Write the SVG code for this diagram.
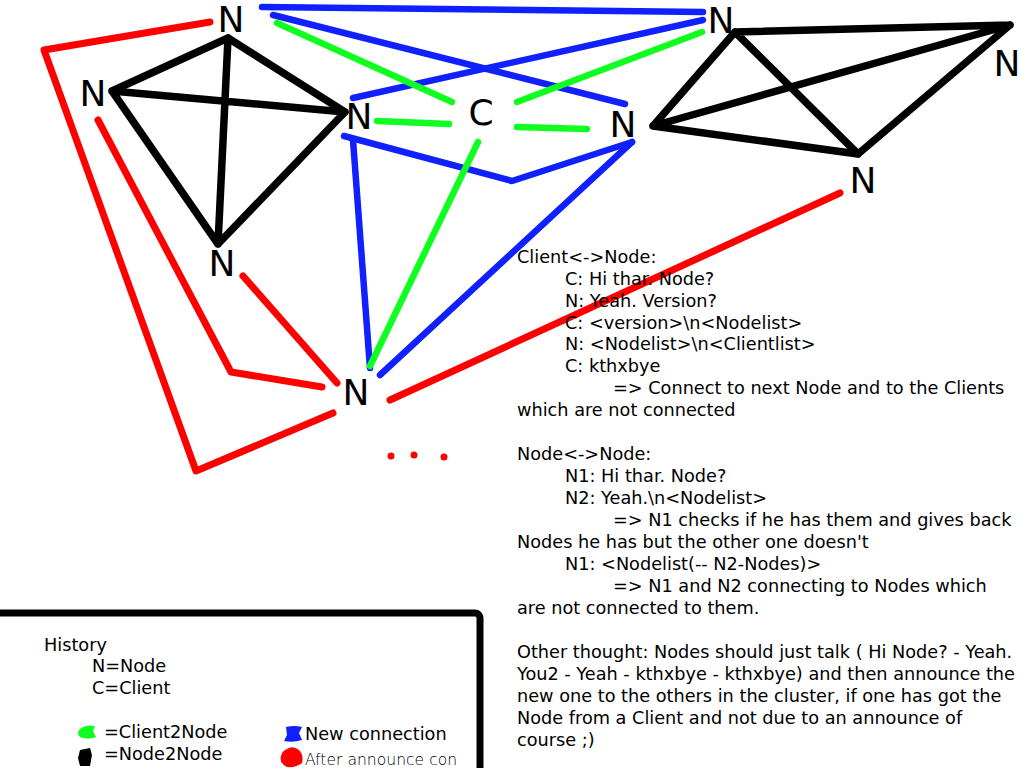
<svg xmlns="http://www.w3.org/2000/svg" width="1024" height="768" viewBox="0 0 1024 768">
<style>
.lbl{font-family:"DejaVu Sans","Liberation Sans",sans-serif;font-size:36px;fill:#000;text-anchor:middle}
.t{font-family:"DejaVu Sans","Liberation Sans",sans-serif;font-size:17.7px;fill:#000}
.thin{font-family:"DejaVu Sans","Liberation Sans",sans-serif;font-size:15.6px;font-weight:200;fill:#000}
.k{stroke:#000;stroke-width:7.5;fill:none;stroke-linecap:round;stroke-linejoin:round}
.b{stroke:#1020ff;stroke-width:6.5;fill:none;stroke-linecap:round;stroke-linejoin:round}
.g{stroke:#10ff20;stroke-width:6.5;fill:none;stroke-linecap:round;stroke-linejoin:round}
.r{stroke:#ff0000;stroke-width:7;fill:none;stroke-linecap:round;stroke-linejoin:round}
</style>
<rect width="1024" height="768" fill="#fff"/>
<g id="connectors">
  <!-- Node2Node left cluster -->
  <path class="k" d="M228,38 L112,91 M228,38 L345,112 M228,38 L218,244 M112,91 L345,112 M112,91 L218,244 M345,112 L218,244"/>
  <!-- Node2Node right cluster -->
  <path class="k" d="M735,32 L1010,25 M735,32 L653,126 M735,32 L858,154 M653,126 L1010,25 M653,126 L858,154 M858,154 L1010,25"/>
  <!-- New connections -->
  <path class="b" d="M262,7 L703,12"/>
  <path class="b" d="M273,15 L625,104"/>
  <path class="b" d="M353,98 L703,20"/>
  <path class="b" d="M344,136 L512,181 L632,142"/>
  <path class="b" d="M353,140 L370,368"/>
  <path class="b" d="M632,142 L380,375"/>
  <!-- Client2Node -->
  <path class="g" d="M277,23 L452,102"/>
  <path class="g" d="M377,121 L449,124"/>
  <path class="g" d="M517,102 L702,32"/>
  <path class="g" d="M517,127 L587,129"/>
  <path class="g" d="M478,142 L370,366"/>
  <!-- After announce -->
  <path class="r" d="M210,22 L44,50 L196,471 L333,413"/>
  <path class="r" d="M98,120 L231,372 L322,387"/>
  <path class="r" d="M243,276 L337,383"/>
  <path class="r" d="M390,400 L840,193"/>
  <g fill="#ff0000">
    <circle cx="391" cy="456" r="3.5"/>
    <circle cx="414" cy="455" r="3.5"/>
    <circle cx="444" cy="457" r="3.5"/>
  </g>
</g>
<g id="n-top"><text class="lbl" x="231" y="32">N</text></g>
<g id="n-left"><text class="lbl" x="93" y="106">N</text></g>
<g id="n-midleft"><text class="lbl" x="359" y="129">N</text></g>
<g id="client"><text class="lbl" x="481" y="125">C</text></g>
<g id="n-midright"><text class="lbl" x="623" y="137">N</text></g>
<g id="n-topright"><text class="lbl" x="721" y="33">N</text></g>
<g id="n-farright"><text class="lbl" x="1007" y="76">N</text></g>
<g id="n-rightlow"><text class="lbl" x="863" y="193">N</text></g>
<g id="n-lowleft"><text class="lbl" x="222" y="276">N</text></g>
<g id="n-bottom"><text class="lbl" x="356" y="405">N</text></g>
<g id="notes">
  <text class="t" x="517" y="263">Client&lt;-&gt;Node:</text>
  <text class="t" x="565" y="285">C: Hi thar. Node?</text>
  <text class="t" x="565" y="307">N: Yeah. Version?</text>
  <text class="t" x="565" y="329">C: &lt;version&gt;\n&lt;Nodelist&gt;</text>
  <text class="t" x="565" y="350">N: &lt;Nodelist&gt;\n&lt;Clientlist&gt;</text>
  <text class="t" x="565" y="372">C: kthxbye</text>
  <text class="t" x="613" y="394">=&gt; Connect to next Node and to the Clients</text>
  <text class="t" x="517" y="416">which are not connected</text>
  <text class="t" x="517" y="460">Node&lt;-&gt;Node:</text>
  <text class="t" x="565" y="482">N1: Hi thar. Node?</text>
  <text class="t" x="565" y="504">N2: Yeah.\n&lt;Nodelist&gt;</text>
  <text class="t" x="613" y="526">=&gt; N1 checks if he has them and gives back</text>
  <text class="t" x="517" y="548">Nodes he has but the other one doesn't</text>
  <text class="t" x="565" y="570">N1: &lt;Nodelist(-- N2-Nodes)&gt;</text>
  <text class="t" x="613" y="592">=&gt; N1 and N2 connecting to Nodes which</text>
  <text class="t" x="517" y="614">are not connected to them.</text>
  <text class="t" x="517" y="658">Other thought: Nodes should just talk ( Hi Node? - Yeah.</text>
  <text class="t" x="517" y="680">You2 - Yeah - kthxbye - kthxbye) and then announce the</text>
  <text class="t" x="517" y="702">new one to the others in the cluster, if one has got the</text>
  <text class="t" x="517" y="724">Node from a Client and not due to an announce of</text>
  <text class="t" x="517" y="746">course ;)</text>
</g>
<g id="legend">
  <rect x="-10" y="613" width="490" height="200" rx="5" fill="none" stroke="#000" stroke-width="7"/>
  <text class="t" x="44" y="651">History</text>
  <text class="t" x="92" y="672">N=Node</text>
  <text class="t" x="92" y="694">C=Client</text>
  <path d="M80,729 Q86,724 95,726 L93,731 L96,737 Q88,740 80,737 Q76,733 80,729 Z" fill="#10ff20"/>
  <path d="M80,750 L90,748 L92,755 L90,766 L80,766 L78,758 Z" fill="#000"/>
  <path d="M286,727 Q294,725 302,727 L299,733 L302,740 Q293,743 284,741 L287,735 Z" fill="#1020ff"/>
  <path d="M287,749 Q293,745 299,750 Q304,755 302,763 Q296,768 287,767 Q279,763 281,756 Q282,751 287,749 Z" fill="#ff0000"/>
  <text class="t" x="104" y="738">=Client2Node</text>
  <text class="t" x="104" y="760">=Node2Node</text>
  <text class="t" x="305" y="740">New connection</text>
  <text class="thin" x="305" y="765">After announce con</text>
</g>
</svg>
